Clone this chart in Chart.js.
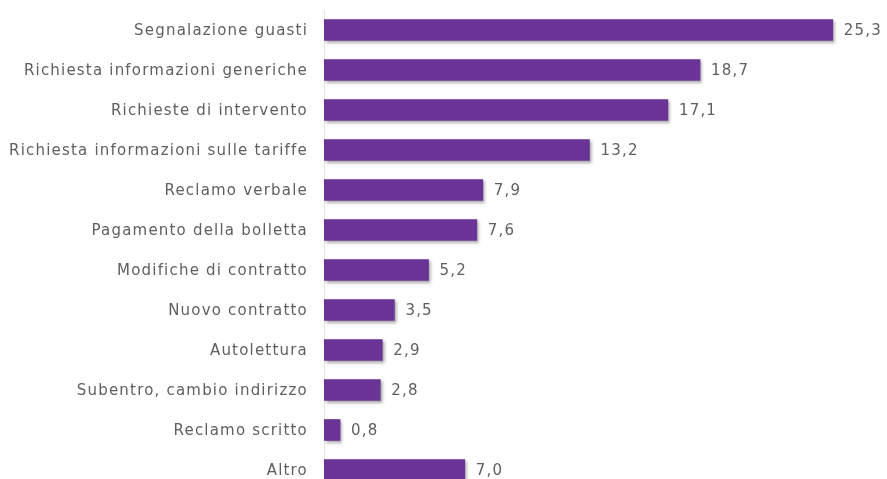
<!DOCTYPE html>
<html lang="it">
<head>
<meta charset="UTF-8">
<title>Contatti</title>
<script src="https://cdn.jsdelivr.net/npm/chart.js"></script>
<style>
  html, body { margin:0; padding:0; background:#fff; overflow:hidden; }
  #bars { display:block; }
</style>
</head>
<body>
<canvas id="bars" width="887" height="500"></canvas>
<script>
const categorie = [
  "Segnalazione guasti",
  "Richiesta informazioni generiche",
  "Richieste di intervento",
  "Richiesta informazioni sulle tariffe",
  "Reclamo verbale",
  "Pagamento della bolletta",
  "Modifiche di contratto",
  "Nuovo contratto",
  "Autolettura",
  "Subentro, cambio indirizzo",
  "Reclamo scritto",
  "Altro"
];
const valori = [25.3, 18.7, 17.1, 13.2, 7.9, 7.6, 5.2, 3.5, 2.9, 2.8, 0.8, 7.0];

const FONT = "15px 'DejaVu Sans', Verdana, sans-serif";
const SPAZIO = "1.2px";

// ombra sotto le barre + testi (etichette categorie e valori)
const ombra = {
  id: "ombra",
  beforeDatasetsDraw(chart) {
    const c = chart.ctx;
    c.save();
    c.shadowColor = "rgba(0,0,0,0.35)";
    c.shadowBlur = 3;
    c.shadowOffsetX = 2;
    c.shadowOffsetY = 2;
  },
  afterDatasetsDraw(chart) {
    chart.ctx.restore();
    const c = chart.ctx;
    const meta = chart.getDatasetMeta(0);
    const y = chart.scales.y;
    c.save();
    c.font = FONT;
    c.letterSpacing = SPAZIO;
    c.fillStyle = "#606060";
    c.textBaseline = "middle";
    meta.data.forEach((bar, i) => {
      c.textAlign = "left";
      c.fillText(valori[i].toFixed(1).replace(".", ","), bar.x + 11, bar.y + 1);
      c.textAlign = "right";
      c.fillText(categorie[i], y.right - 16, y.getPixelForTick(i) + 1);
    });
    c.restore();
  }
};

new Chart(document.getElementById("bars"), {
  type: "bar",
  data: {
    labels: categorie,
    datasets: [{
      data: valori,
      backgroundColor: "#6a3396",
      barThickness: 21,
      borderWidth: 0
    }]
  },
  options: {
    indexAxis: "y",
    responsive: false,
    animation: false,
    layout: { padding: { top: 10, bottom: 10, right: 18, left: 0 } },
    plugins: { legend: { display: false }, tooltip: { enabled: false } },
    scales: {
      x: {
        display: false,
        min: 0,
        max: 27.1
      },
      y: {
        afterFit(s) { s.width = 324; },
        grid: { display: false, drawTicks: false },
        border: { display: true, color: "#e4e4e4", width: 1 },
        ticks: { display: false }
      }
    }
  },
  plugins: [ombra]
});
</script>
</body>
</html>
